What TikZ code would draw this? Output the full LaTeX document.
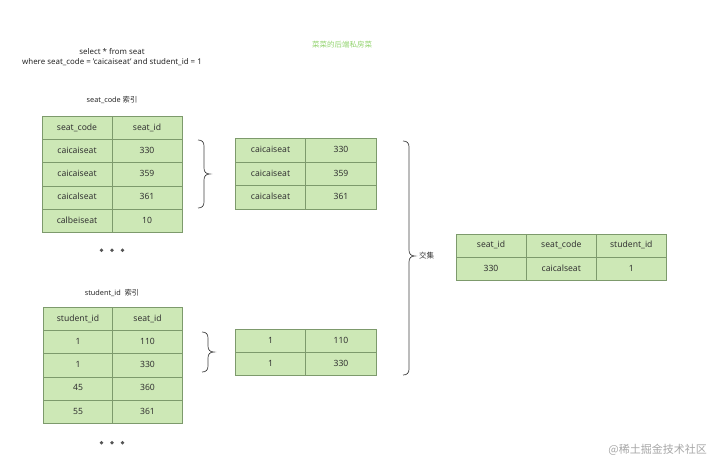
\documentclass[tikz,border=0pt]{standalone}
\usepackage{fontspec}
\setmainfont{Noto Sans}
\newfontfamily\cjk{Noto Sans CJK SC}
\definecolor{cellfill}{HTML}{CDE8B6}
\definecolor{celldraw}{HTML}{7D9A6C}
\definecolor{wmgreen}{HTML}{92D36E}
\definecolor{dotc}{HTML}{555555}
\tikzset{
  cell/.style={draw=celldraw, fill=cellfill, line width=0.8pt, minimum width=70pt, minimum height=23.2pt, inner sep=0pt, text height=6.4pt, text depth=1.8pt, font=\fontsize{8.6}{10}\selectfont, text=black!80},
  lbl/.style={font=\fontsize{7.3}{9}\selectfont, inner sep=0pt, text=black!85},
  bracestyle/.style={draw=black!75, line width=0.7pt},
  dotstyle/.style={fill=dotc, draw=none},
}
\newcommand\mybrace[5]{% name, x0, ytop, ybot, ytip
  \coordinate (#1) at (#2+12,#5);
  \draw[bracestyle] (#2,#3) .. controls (#2+4,#3) and (#2+6,#3+2) .. (#2+6,#3+6)
    -- (#2+6,#5-6) .. controls (#2+6,#5-2) and (#2+8,#5) .. (#2+12,#5)
    .. controls (#2+8,#5) and (#2+6,#5+2) .. (#2+6,#5+6)
    -- (#2+6,#4-6) .. controls (#2+6,#4-2) and (#2+4,#4) .. (#2,#4);
}
\begin{document}
\begin{tikzpicture}[x=1pt,y=-1pt]
\useasboundingbox (0,0) rectangle (718,463);

% query text
\node[lbl, font=\fontsize{7.9}{9.6}\selectfont, align=center] (sql) at (112,57) {select * from seat\\where seat\_code = 'caicaiseat' and student\_id = 1};
\node[font=\cjk\fontsize{7.5}{9}\selectfont, text=wmgreen, inner sep=0pt] (wm1) at (342,45) {菜菜的后端私房菜};

% seat_code index
\node[lbl] (lab1) at (112,100) {seat\_code {\cjk 索引}};
\node[cell] (a11) at (77,128) {seat\_code};
\node[cell] (a12) at (147,128) {seat\_id};
\node[cell] (a21) at (77,151.2) {caicaiseat};
\node[cell] (a22) at (147,151.2) {330};
\node[cell] (a31) at (77,174.4) {caicaiseat};
\node[cell] (a32) at (147,174.4) {359};
\node[cell] (a41) at (77,197.6) {caicalseat};
\node[cell] (a42) at (147,197.6) {361};
\node[cell] (a51) at (77,220.8) {calbeiseat};
\node[cell] (a52) at (147,220.8) {10};
\foreach \i/\x in {1/101.5,2/112,3/122.5} \fill[dotstyle] (\x,250.3) circle (1.9pt);

% brace 1
\mybrace{br1}{198}{140}{208}{174}

% filtered seat_code rows
\node[cell, minimum width=70.5pt, minimum height=23.5pt] (b11) at (270.5,150.3) {caicaiseat};
\node[cell, minimum width=70.5pt, minimum height=23.5pt] (b12) at (341,150.3) {330};
\node[cell, minimum width=70.5pt, minimum height=23.5pt] (b21) at (270.5,173.8) {caicaiseat};
\node[cell, minimum width=70.5pt, minimum height=23.5pt] (b22) at (341,173.8) {359};
\node[cell, minimum width=70.5pt, minimum height=23.5pt] (b31) at (270.5,197.3) {caicalseat};
\node[cell, minimum width=70.5pt, minimum height=23.5pt] (b32) at (341,197.3) {361};

% student_id index
\node[lbl] (lab2) at (112,292.7) {student\_id \ {\cjk 索引}};
\node[cell] (c11) at (78,319) {student\_id};
\node[cell] (c12) at (147.5,319) {seat\_id};
\node[cell] (c21) at (78,342.2) {1};
\node[cell] (c22) at (147.5,342.2) {110};
\node[cell] (c31) at (78,365.4) {1};
\node[cell] (c32) at (147.5,365.4) {330};
\node[cell] (c41) at (78,388.6) {45};
\node[cell] (c42) at (147.5,388.6) {360};
\node[cell] (c51) at (78,411.8) {55};
\node[cell] (c52) at (147.5,411.8) {361};
\foreach \i/\x in {1/101.5,2/112,3/122.5} \fill[dotstyle] (\x,442.7) circle (1.9pt);

% brace 3
\mybrace{br3}{202}{332}{372}{352}

% filtered student_id rows
\node[cell, minimum width=70.5pt] (d11) at (270.5,340.8) {1};
\node[cell, minimum width=70.5pt] (d12) at (341,340.8) {110};
\node[cell, minimum width=70.5pt] (d21) at (270.5,364) {1};
\node[cell, minimum width=70.5pt] (d22) at (341,364) {330};

% big brace
\mybrace{brbig}{403}{141}{375}{256}
\node[font=\cjk\fontsize{7.5}{9}\selectfont, inner sep=0pt, text=black!80, anchor=west] (jj) at (419,256) {交集};

% result
\node[cell] (r11) at (491,245.6) {seat\_id};
\node[cell] (r12) at (561.3,245.6) {seat\_code};
\node[cell] (r13) at (631.3,245.6) {student\_id};
\node[cell] (r21) at (491,268.8) {330};
\node[cell] (r22) at (561.3,268.8) {caicalseat};
\node[cell] (r23) at (631.3,268.8) {1};

% watermark
\node[font=\cjk\fontsize{11}{13}\selectfont, text=black!35, inner sep=0pt, anchor=east] (wm2) at (707,450) {@稀土掘金技术社区};
\end{tikzpicture}
\end{document}
